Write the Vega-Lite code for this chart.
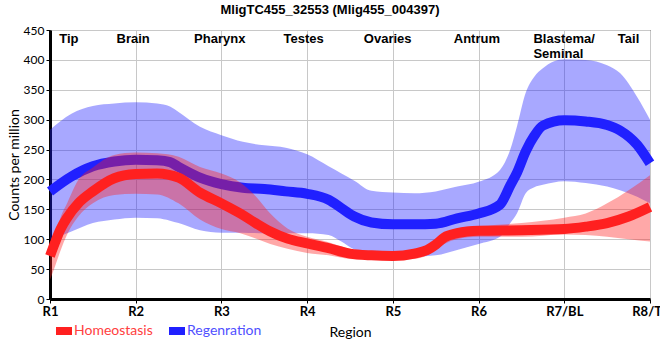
{
  "$schema": "https://vega.github.io/schema/vega-lite/v6.json",
  "width": 600,
  "height": 269,
  "autosize": {"type": "none"},
  "padding": {"left": 50, "top": 30, "right": 10, "bottom": 61},
  "background": "white",
  "title": {"text": "MligTC455_32553 (Mlig455_004397)", "font": "Liberation Sans", "fontSize": 13, "fontWeight": "bold", "color": "black", "anchor": "middle", "frame": "group", "dx": -20, "offset": 7},
  "datasets": {
    "reg": [
      {"cond": "Regenration", "x": 1, "mean": 180, "lo": 99, "hi": 283},
      {"cond": "Regenration", "x": 1.25, "mean": 205, "lo": 113, "hi": 310},
      {"cond": "Regenration", "x": 1.5, "mean": 222, "lo": 127, "hi": 323},
      {"cond": "Regenration", "x": 1.75, "mean": 230, "lo": 133, "hi": 327},
      {"cond": "Regenration", "x": 2, "mean": 233, "lo": 136, "hi": 329},
      {"cond": "Regenration", "x": 2.25, "mean": 232, "lo": 135, "hi": 327},
      {"cond": "Regenration", "x": 2.4, "mean": 229, "lo": 131, "hi": 322},
      {"cond": "Regenration", "x": 2.5, "mean": 221, "lo": 127, "hi": 313},
      {"cond": "Regenration", "x": 2.75, "mean": 203, "lo": 115, "hi": 288},
      {"cond": "Regenration", "x": 3, "mean": 192, "lo": 111, "hi": 274},
      {"cond": "Regenration", "x": 3.25, "mean": 186, "lo": 111, "hi": 263},
      {"cond": "Regenration", "x": 3.5, "mean": 184, "lo": 110, "hi": 257},
      {"cond": "Regenration", "x": 3.75, "mean": 180, "lo": 110, "hi": 253},
      {"cond": "Regenration", "x": 4, "mean": 176, "lo": 110, "hi": 242},
      {"cond": "Regenration", "x": 4.25, "mean": 166, "lo": 107, "hi": 222},
      {"cond": "Regenration", "x": 4.4, "mean": 152, "lo": 96, "hi": 210},
      {"cond": "Regenration", "x": 4.55, "mean": 138, "lo": 83, "hi": 198},
      {"cond": "Regenration", "x": 4.75, "mean": 128, "lo": 78, "hi": 181},
      {"cond": "Regenration", "x": 5, "mean": 125, "lo": 73, "hi": 178},
      {"cond": "Regenration", "x": 5.25, "mean": 125, "lo": 71, "hi": 177},
      {"cond": "Regenration", "x": 5.5, "mean": 126, "lo": 73, "hi": 180},
      {"cond": "Regenration", "x": 5.75, "mean": 135, "lo": 82, "hi": 188},
      {"cond": "Regenration", "x": 6, "mean": 143, "lo": 92, "hi": 196},
      {"cond": "Regenration", "x": 6.25, "mean": 158, "lo": 104, "hi": 216},
      {"cond": "Regenration", "x": 6.37, "mean": 190, "lo": 127, "hi": 250},
      {"cond": "Regenration", "x": 6.45, "mean": 212, "lo": 144, "hi": 290},
      {"cond": "Regenration", "x": 6.55, "mean": 247, "lo": 177, "hi": 345},
      {"cond": "Regenration", "x": 6.65, "mean": 273, "lo": 187, "hi": 372},
      {"cond": "Regenration", "x": 6.75, "mean": 290, "lo": 191, "hi": 386},
      {"cond": "Regenration", "x": 7, "mean": 299, "lo": 197, "hi": 401},
      {"cond": "Regenration", "x": 7.25, "mean": 297, "lo": 194, "hi": 400},
      {"cond": "Regenration", "x": 7.5, "mean": 291, "lo": 188, "hi": 391},
      {"cond": "Regenration", "x": 7.65, "mean": 282, "lo": 182, "hi": 378},
      {"cond": "Regenration", "x": 7.85, "mean": 258, "lo": 171, "hi": 338},
      {"cond": "Regenration", "x": 8, "mean": 227, "lo": 160, "hi": 300}
    ],
    "hom": [
      {"cond": "Homeostasis", "x": 1, "mean": 72, "lo": 32, "hi": 88},
      {"cond": "Homeostasis", "x": 1.06, "mean": 95, "lo": 55, "hi": 104},
      {"cond": "Homeostasis", "x": 1.12, "mean": 116, "lo": 80, "hi": 135},
      {"cond": "Homeostasis", "x": 1.2, "mean": 136, "lo": 108, "hi": 160},
      {"cond": "Homeostasis", "x": 1.33, "mean": 160, "lo": 138, "hi": 199},
      {"cond": "Homeostasis", "x": 1.5, "mean": 180, "lo": 160, "hi": 220},
      {"cond": "Homeostasis", "x": 1.75, "mean": 202, "lo": 174, "hi": 241},
      {"cond": "Homeostasis", "x": 2, "mean": 209, "lo": 176, "hi": 245},
      {"cond": "Homeostasis", "x": 2.25, "mean": 210, "lo": 175, "hi": 244},
      {"cond": "Homeostasis", "x": 2.5, "mean": 203, "lo": 160, "hi": 238},
      {"cond": "Homeostasis", "x": 2.75, "mean": 178, "lo": 133, "hi": 221},
      {"cond": "Homeostasis", "x": 3, "mean": 160, "lo": 117, "hi": 210},
      {"cond": "Homeostasis", "x": 3.22, "mean": 143, "lo": 110, "hi": 195},
      {"cond": "Homeostasis", "x": 3.4, "mean": 127, "lo": 101, "hi": 172},
      {"cond": "Homeostasis", "x": 3.57, "mean": 113, "lo": 92, "hi": 143},
      {"cond": "Homeostasis", "x": 3.77, "mean": 101, "lo": 84, "hi": 118},
      {"cond": "Homeostasis", "x": 4, "mean": 93, "lo": 77, "hi": 104},
      {"cond": "Homeostasis", "x": 4.25, "mean": 85, "lo": 73, "hi": 95},
      {"cond": "Homeostasis", "x": 4.5, "mean": 76, "lo": 67, "hi": 84},
      {"cond": "Homeostasis", "x": 4.75, "mean": 73, "lo": 66, "hi": 80},
      {"cond": "Homeostasis", "x": 5, "mean": 72, "lo": 66, "hi": 80},
      {"cond": "Homeostasis", "x": 5.25, "mean": 76, "lo": 67, "hi": 82},
      {"cond": "Homeostasis", "x": 5.4, "mean": 82, "lo": 73, "hi": 90},
      {"cond": "Homeostasis", "x": 5.5, "mean": 91, "lo": 82, "hi": 100},
      {"cond": "Homeostasis", "x": 5.6, "mean": 103, "lo": 92, "hi": 110},
      {"cond": "Homeostasis", "x": 5.75, "mean": 110, "lo": 100, "hi": 118},
      {"cond": "Homeostasis", "x": 6, "mean": 114, "lo": 104, "hi": 122},
      {"cond": "Homeostasis", "x": 6.5, "mean": 115, "lo": 104, "hi": 127},
      {"cond": "Homeostasis", "x": 7, "mean": 117, "lo": 108, "hi": 136},
      {"cond": "Homeostasis", "x": 7.25, "mean": 121, "lo": 107, "hi": 143},
      {"cond": "Homeostasis", "x": 7.5, "mean": 127, "lo": 104, "hi": 160},
      {"cond": "Homeostasis", "x": 7.75, "mean": 138, "lo": 100, "hi": 182},
      {"cond": "Homeostasis", "x": 8, "mean": 154, "lo": 96, "hi": 207}
    ],
    "regions": [
      {"label": "Tip", "x": 1.22},
      {"label": "Brain", "x": 1.97},
      {"label": "Pharynx", "x": 2.98},
      {"label": "Testes", "x": 3.96},
      {"label": "Ovaries", "x": 4.94},
      {"label": "Antrum", "x": 5.98},
      {"label": "Tail", "x": 7.75}
    ],
    "regions2": [
      {"label": "Blastema/\nSeminal", "x": 6.64}
    ]
  },
  "layer": [
    {
      "data": {"name": "reg"},
      "mark": {"type": "area", "interpolate": "monotone", "color": "#2020ff", "opacity": 0.39},
      "encoding": {
        "x": {"field": "x", "type": "quantitative", "scale": {"domain": [1, 8], "nice": false, "zero": false},
          "axis": {"title": "Region", "values": [1, 2, 3, 4, 5, 6, 7, 8],
            "labelExpr": "['R1','R2','R3','R4','R5','R6','R7/BL','R8/TL'][datum.value-1]",
            "labelFontWeight": "bold", "labelFontSize": 13, "labelFlush": false, "labelOverlap": false, "labelPadding": 2, "titlePadding": 7}},
        "y": {"field": "lo", "type": "quantitative", "scale": {"domain": [0, 450], "nice": false, "zero": true},
          "axis": {"title": "Counts per million", "values": [0, 50, 100, 150, 200, 250, 300, 350, 400, 450], "labelOverlap": false, "labelFontSize": 12, "labelPadding": 2, "titlePadding": 2}},
        "y2": {"field": "hi"}
      }
    },
    {
      "data": {"name": "reg"},
      "mark": {"type": "line", "interpolate": "monotone", "strokeWidth": 10},
      "encoding": {
        "x": {"field": "x", "type": "quantitative"},
        "y": {"field": "mean", "type": "quantitative",
          "axis": {"title": "Counts per million", "values": [0, 50, 100, 150, 200, 250, 300, 350, 400, 450], "labelOverlap": false, "labelFontSize": 12, "labelPadding": 2, "titlePadding": 2}},
        "color": {"field": "cond", "type": "nominal", "scale": {"domain": ["Homeostasis", "Regenration"], "range": ["#ff2020", "#2020ff"]},
          "legend": {"title": null, "orient": "none", "legendX": 2, "legendY": 289, "direction": "horizontal",
            "symbolType": "stroke", "symbolSize": 256, "symbolStrokeWidth": 8,
            "labelFont": "Lato", "labelFontSize": 14, "columnPadding": 0, "labelOffset": -2,
            "encode": {"labels": {"update": {"fill": {"signal": "datum.label === 'Homeostasis' ? '#ff4040' : '#5050ff'"}}}}}}
      }
    },
    {
      "data": {"name": "hom"},
      "mark": {"type": "area", "interpolate": "monotone", "color": "#ff2020", "opacity": 0.39},
      "encoding": {
        "x": {"field": "x", "type": "quantitative"},
        "y": {"field": "lo", "type": "quantitative",
          "axis": {"title": "Counts per million", "values": [0, 50, 100, 150, 200, 250, 300, 350, 400, 450], "labelOverlap": false, "labelFontSize": 12, "labelPadding": 2, "titlePadding": 2}},
        "y2": {"field": "hi"}
      }
    },
    {
      "data": {"name": "hom"},
      "mark": {"type": "line", "interpolate": "monotone", "strokeWidth": 10},
      "encoding": {
        "x": {"field": "x", "type": "quantitative"},
        "y": {"field": "mean", "type": "quantitative",
          "axis": {"title": "Counts per million", "values": [0, 50, 100, 150, 200, 250, 300, 350, 400, 450], "labelOverlap": false, "labelFontSize": 12, "labelPadding": 2, "titlePadding": 2}},
        "color": {"field": "cond", "type": "nominal"}
      }
    },
    {
      "mark": {"type": "rule", "color": "black", "strokeWidth": 2.5, "strokeDash": [6, 5]},
      "encoding": {
        "x": {"datum": 7.5, "type": "quantitative"},
        "y": {"datum": -10, "type": "quantitative",
          "axis": {"title": "Counts per million", "values": [0, 50, 100, 150, 200, 250, 300, 350, 400, 450], "labelOverlap": false, "labelFontSize": 12, "labelPadding": 2, "titlePadding": 2}},
        "y2": {"datum": 450}
      }
    },
    {
      "data": {"name": "regions"},
      "mark": {"type": "text", "font": "Liberation Sans", "fontSize": 13, "fontWeight": "bold", "color": "black", "baseline": "top", "align": "center"},
      "encoding": {
        "x": {"field": "x", "type": "quantitative"},
        "y": {"datum": 445, "type": "quantitative",
          "axis": {"title": "Counts per million", "values": [0, 50, 100, 150, 200, 250, 300, 350, 400, 450], "labelOverlap": false, "labelFontSize": 12, "labelPadding": 2, "titlePadding": 2}},
        "text": {"field": "label"}
      }
    },
    {
      "data": {"name": "regions2"},
      "mark": {"type": "text", "font": "Liberation Sans", "fontSize": 13, "fontWeight": "bold", "color": "black", "baseline": "top", "align": "left", "lineBreak": "\n", "lineHeight": 15},
      "encoding": {
        "x": {"field": "x", "type": "quantitative"},
        "y": {"datum": 445, "type": "quantitative",
          "axis": {"title": "Counts per million", "values": [0, 50, 100, 150, 200, 250, 300, 350, 400, 450], "labelOverlap": false, "labelFontSize": 12, "labelPadding": 2, "titlePadding": 2}},
        "text": {"field": "label"}
      }
    }
  ],
  "config": {
    "view": {"stroke": "black", "strokeWidth": 1},
    "font": "Lato",
    "axis": {
      "grid": true, "gridColor": "#c8c8c8", "gridWidth": 1,
      "domainColor": "black", "domainWidth": 3,
      "tickColor": "black", "tickSize": 4, "tickWidth": 1,
      "labelFont": "Lato", "labelColor": "black",
      "titleFont": "Lato", "titleFontSize": 14, "titleFontWeight": "normal", "titleColor": "black"
    },
    "legend": {"padding": 0}
  }
}
